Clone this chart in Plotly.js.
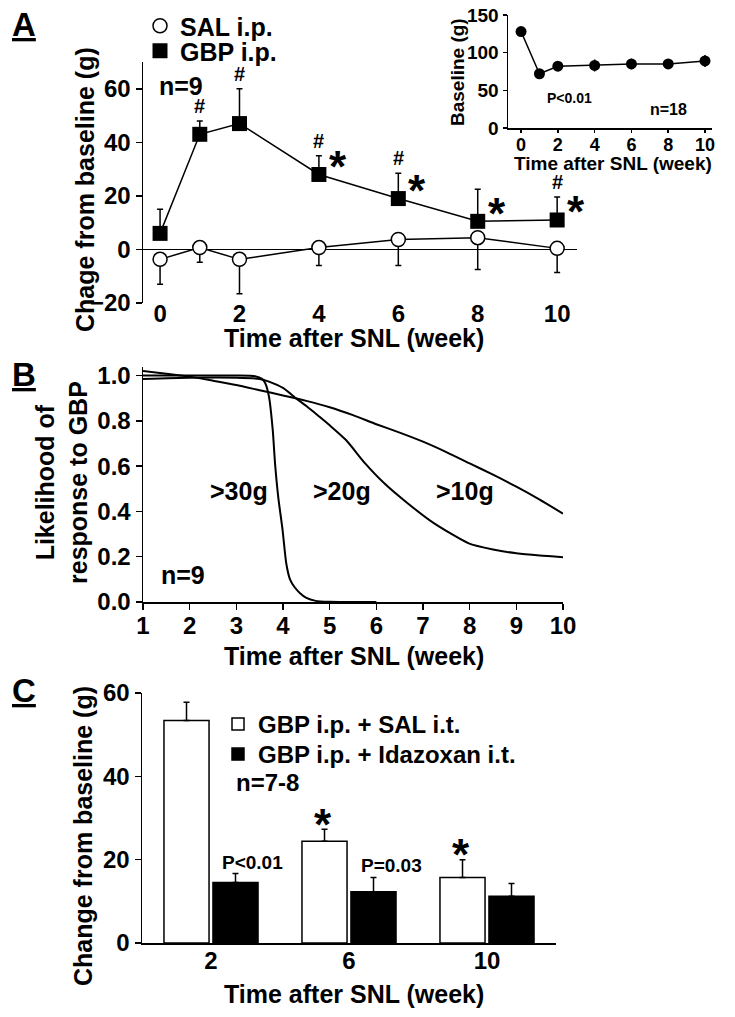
<!DOCTYPE html>
<html>
<head>
<meta charset="utf-8">
<script src="https://cdn.plot.ly/plotly-3.0.1.min.js"></script>
<style>
  body { margin: 0; background: #fff; }
  #plot { width: 735px; height: 1017px; }
</style>
</head>
<body>
<div id="plot"></div>
<script>
// Panel A: change from baseline after GBP / SAL i.p.
let weeksA = [0, 1, 2, 4, 6, 8, 10];
let salMean = [-3.7, 0.7, -3.7, 0.7, 3.7, 4.4, 0.4];
let salSem = [9.3, 5.5, 12.8, 6.7, 9.7, 11.9, 9.0];
let gbpMean = [6, 43, 47, 28, 19, 10.5, 11];
let gbpSem = [9, 5, 13, 7, 9.5, 12, 8.6];
let hashWeeks = [1, 2, 4, 6, 10];
let starWeeks = [4, 6, 8, 10];

// Inset: baseline
let baseWeeks = [0, 1, 2, 4, 6, 8, 10];
let baseMean = [128, 72, 82, 83, 85, 85, 89];
let baseSem = [3, 4, 4, 8, 7, 6, 8];

// Panel B: likelihood curves
let c30x = [1, 2, 3, 3.4, 3.55, 3.62, 3.7, 3.78, 3.83, 3.9, 3.99, 4.07, 4.15, 4.25, 4.36, 4.5, 4.7, 5, 6];
let c30y = [1.0, 1.0, 1.0, 0.997, 0.985, 0.966, 0.906, 0.76, 0.61, 0.46, 0.32, 0.17, 0.1, 0.065, 0.04, 0.018, 0.005, 0.001, 0];
let c20x = [1, 2, 3, 3.5, 3.7, 4, 4.28, 4.5, 4.78, 5, 5.35, 5.76, 6.17, 6.67, 7.24, 7.98, 8.5, 9, 9.5, 10];
let c20y = [0.985, 0.99, 0.99, 0.985, 0.973, 0.945, 0.899, 0.865, 0.818, 0.78, 0.715, 0.612, 0.524, 0.436, 0.347, 0.259, 0.232, 0.215, 0.205, 0.198];
let c10x = [1, 1.5, 2, 2.5, 3, 3.5, 4, 4.5, 5, 5.5, 6, 6.5, 7, 7.5, 8, 8.5, 9, 9.5, 10];
let c10y = [1.02, 1.008, 0.995, 0.977, 0.958, 0.935, 0.912, 0.888, 0.86, 0.825, 0.785, 0.748, 0.708, 0.662, 0.612, 0.562, 0.509, 0.452, 0.39];

// Panel C: bars
let groupsC = ["2", "6", "10"];
let salItMean = [53.4, 24.4, 15.7];
let salItSem = [4.4, 2.9, 4.3];
let idaMean = [14.5, 12.3, 11.2];
let idaSem = [2.2, 3.4, 3.1];
let starGroupsC = [1, 2];

const W = 735, H = 1017;
const FONT = "Liberation Sans, Arial, Helvetica, sans-serif";
const px = v => v / W;
const py = v => 1 - v / H;
const zeros = n => new Array(n).fill(0);

function font(size, weight) {
  return { family: FONT, size: size, color: "#000", weight: weight || "bold" };
}

function upErr(arr) {
  return { type: "data", symmetric: false, array: arr, arrayminus: zeros(arr.length),
           color: "#000", thickness: 1.5, width: 3 };
}

let traces = [
  { x: weeksA, y: salMean, mode: "lines", line: { color: "#000", width: 1.5 },
    showlegend: false, xaxis: "x", yaxis: "y", hoverinfo: "skip" },
  { x: weeksA, y: salMean, mode: "markers", name: "SAL i.p.", legend: "legend",
    marker: { symbol: "circle", size: 14, color: "#fff", line: { color: "#000", width: 1.5 } },
    error_y: { type: "data", symmetric: false, array: zeros(salSem.length), arrayminus: salSem,
               color: "#000", thickness: 1.5, width: 3 },
    xaxis: "x", yaxis: "y" },
  { x: weeksA, y: gbpMean, mode: "lines", line: { color: "#000", width: 1.5 },
    showlegend: false, xaxis: "x", yaxis: "y", hoverinfo: "skip" },
  { x: weeksA, y: gbpMean, mode: "markers", name: "GBP i.p.", legend: "legend3",
    marker: { symbol: "square", size: 15, color: "#000" },
    error_y: upErr(gbpSem), xaxis: "x", yaxis: "y" },

  { x: baseWeeks, y: baseMean, mode: "lines+markers", showlegend: false,
    line: { color: "#000", width: 1.5 }, marker: { size: 11, color: "#000" },
    error_y: { type: "data", array: baseSem, color: "#000", thickness: 1.5, width: 0 },
    xaxis: "x2", yaxis: "y2" },

  { x: c30x, y: c30y, mode: "lines", line: { color: "#000", width: 2, shape: "spline", smoothing: 0.6 },
    showlegend: false, xaxis: "x3", yaxis: "y3" },
  { x: c20x, y: c20y, mode: "lines", line: { color: "#000", width: 2, shape: "spline", smoothing: 0.6 },
    showlegend: false, xaxis: "x3", yaxis: "y3" },
  { x: c10x, y: c10y, mode: "lines", line: { color: "#000", width: 2, shape: "spline", smoothing: 0.6 },
    showlegend: false, xaxis: "x3", yaxis: "y3" },

  { type: "bar", x: groupsC, y: salItMean, name: "GBP i.p. + SAL i.t.",
    marker: { color: "#fff", line: { color: "#000", width: 1.5 } },
    error_y: upErr(salItSem), xaxis: "x4", yaxis: "y4", legend: "legend2" },
  { type: "bar", x: groupsC, y: idaMean, name: "GBP i.p. + Idazoxan i.t.",
    marker: { color: "#000", line: { color: "#000", width: 1.5 } },
    error_y: upErr(idaSem), xaxis: "x4", yaxis: "y4", legend: "legend4" }
];

let axisBase = {
  showgrid: false, zeroline: false, showline: true, linecolor: "#000", linewidth: 1.5,
  ticks: "outside", ticklen: 6, tickwidth: 1.5, tickcolor: "#000", fixedrange: true
};

let annotations = [];

function note(text, x, y, xref, yref, size, extra) {
  annotations.push(Object.assign({
    text: text, x: x, y: y, xref: xref, yref: yref, showarrow: false,
    font: font(size), xanchor: "center", yanchor: "middle"
  }, extra || {}));
}

// panel letters
["A", "B", "C"].forEach((t, i) => {
  note(t, px(24), py([25, 374, 690][i]), "paper", "paper", 33,
       { font: Object.assign(font(33), { lineposition: "under" }) });
});

// axis titles
note("Chage from baseline (g)", px(85), py(190), "paper", "paper", 25, { textangle: -90 });
note("Time after SNL (week)", px(354), py(338), "paper", "paper", 25);
note("Baseline (g)", px(457), py(72), "paper", "paper", 19, { textangle: -90 });
note("Time after SNL (week)", px(613), py(164), "paper", "paper", 19);
note("Likelihood of<br>response to GBP", px(62), py(482), "paper", "paper", 25, { textangle: -90 });
note("Time after SNL (week)", px(354), py(656), "paper", "paper", 25);
note("Change from baseline (g)", px(83), py(836), "paper", "paper", 25, { textangle: -90 });
note("Time after SNL (week)", px(354), py(994), "paper", "paper", 25);

// panel A marks
note("n=9", 0.53, 61, "x", "y", 25);
hashWeeks.forEach(w => {
  let i = weeksA.indexOf(w);
  note("#", w, gbpMean[i] + gbpSem[i], "x", "y", 20, { yanchor: "bottom", yshift: 2 });
});
starWeeks.forEach(w => {
  let i = weeksA.indexOf(w);
  note("*", w, gbpMean[i], "x", "y", 44, { xshift: 19, yshift: 8 });
});

// inset marks
note("P<0.01", 2.66, 40, "x2", "y2", 14);
note("n=18", 8.0, 25, "x2", "y2", 16);

// panel B labels
note(">30g", 3.05, 0.49, "x3", "y3", 25);
note(">20g", 5.27, 0.49, "x3", "y3", 25);
note(">10g", 7.9, 0.49, "x3", "y3", 25);
note("n=9", 1.85, 0.12, "x3", "y3", 25);

// panel C marks (category axis: x is the category index)
starGroupsC.forEach(i => {
  note("*", i, salItMean[i] + salItSem[i], "x4", "y4", 44, { xshift: -26, yshift: 5 });
});
note("P<0.01", 0, idaMean[0] + idaSem[0], "x4", "y4", 19, { xshift: 41, yanchor: "bottom", yshift: -2 });
note("P=0.03", 1, idaMean[1] + idaSem[1], "x4", "y4", 19, { xshift: 42, yanchor: "bottom" });
note("n=7-8", px(234), py(782), "paper", "paper", 24, { xanchor: "left" });

function legendAt(x, yTop, size) {
  return { x: px(x), y: py(yTop), xanchor: "left", yanchor: "top",
           bgcolor: "rgba(0,0,0,0)", font: font(size), itemsizing: "trace", tracegroupgap: 0 };
}

let layout = {
  width: W, height: H, autosize: false,
  margin: { l: 0, r: 0, t: 0, b: 0 },
  paper_bgcolor: "#fff", plot_bgcolor: "rgba(0,0,0,0)",
  font: font(24),
  bargap: 0.29, bargroupgap: 0.08, barmode: "group",

  xaxis: Object.assign({}, axisBase, {
    domain: [px(143), px(577)], range: [-0.43, 10.5], tickvals: [0, 2, 4, 6, 8, 10],
    showline: false, ticks: "", ticklabelstandoff: -6, anchor: "y", tickfont: font(24)
  }),
  yaxis: Object.assign({}, axisBase, {
    domain: [py(303), py(62)], range: [-20, 70], tickvals: [-20, 0, 20, 40, 60],
    zeroline: true, zerolinecolor: "#000", zerolinewidth: 1.5, anchor: "x", tickfont: font(24)
  }),

  xaxis2: Object.assign({}, axisBase, {
    domain: [px(508), px(712)], range: [-0.71, 10.38], tickvals: [0, 2, 4, 6, 8, 10],
    ticklen: 3, ticklabelstandoff: -3, anchor: "y2", tickfont: font(18)
  }),
  yaxis2: Object.assign({}, axisBase, {
    domain: [py(128), py(15)], range: [0, 150], tickvals: [0, 50, 100, 150],
    ticklen: 4, anchor: "x2", tickfont: font(19)
  }),

  xaxis3: Object.assign({}, axisBase, {
    domain: [px(143), px(563)], range: [1, 10], dtick: 1, ticklabelstandoff: -4,
    anchor: "y3", tickfont: font(24)
  }),
  yaxis3: Object.assign({}, axisBase, {
    domain: [py(602), py(367)], range: [0, 1.0375], tickvals: [0, 0.2, 0.4, 0.6, 0.8, 1.0],
    tickformat: ".1f", anchor: "x3", tickfont: font(24)
  }),

  xaxis4: Object.assign({}, axisBase, {
    domain: [px(142), px(556)], type: "category", range: [-0.5, 2.5], ticks: "",
    ticklabelstandoff: -4, anchor: "y4", tickfont: font(24)
  }),
  yaxis4: Object.assign({}, axisBase, {
    domain: [py(943), py(693)], range: [0, 60], tickvals: [0, 20, 40, 60],
    anchor: "x4", tickfont: font(24)
  }),

  legend: legendAt(140, 3, 25),
  legend3: legendAt(140, 28, 25),
  legend2: legendAt(218, 702, 24),
  legend4: legendAt(218, 732, 24),
  annotations: annotations
};

Plotly.newPlot("plot", traces, layout, { displayModeBar: false, staticPlot: true });
</script>
</body>
</html>
